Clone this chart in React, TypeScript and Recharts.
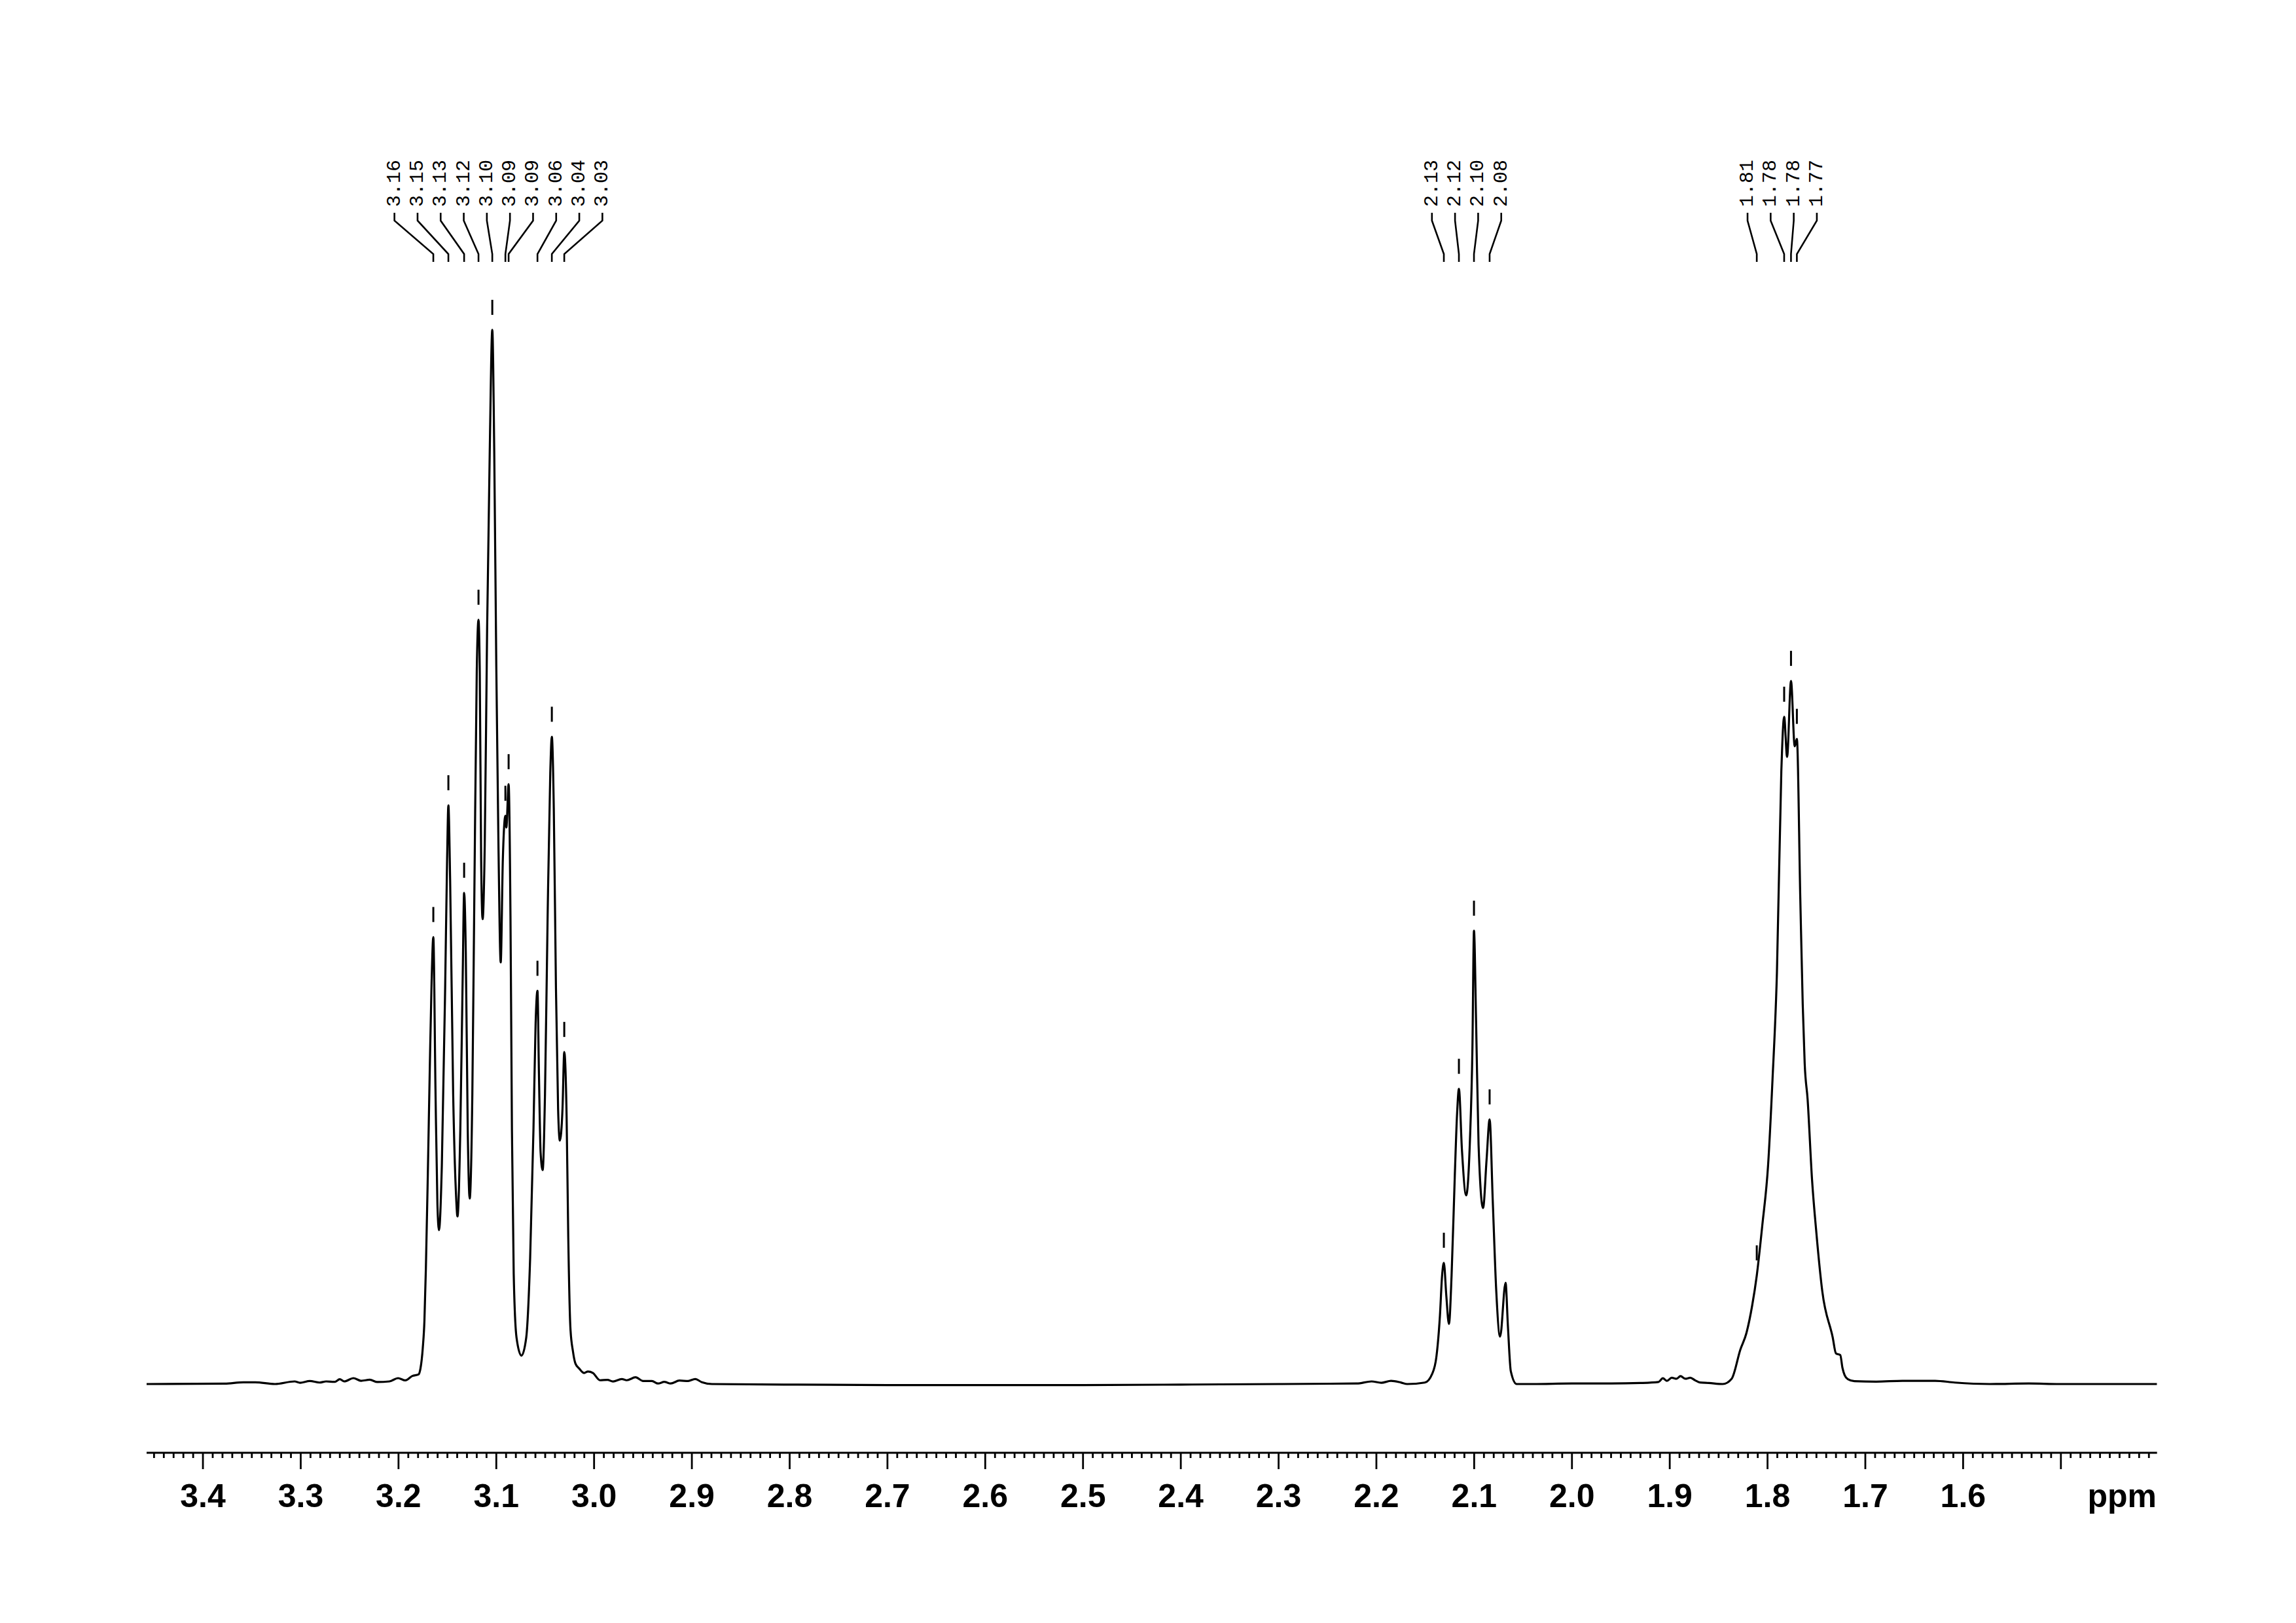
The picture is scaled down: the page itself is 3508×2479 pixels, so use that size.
import React from 'react';
import { ComposedChart, Line, Scatter, XAxis, YAxis } from 'recharts';

// spectrum: [ppm, intensity], tallest line = 100
const baselineLeft: [number, number][] = [
  [3.4576, 0], [3.3777, 0.04], [3.3587, 0.17], [3.3465, 0.17], [3.3264, 0], [3.3063, 0.25], [3.3007, 0.12],
  [3.2907, 0.29], [3.2807, 0.14], [3.274, 0.25], [3.2652, 0.21], [3.2601, 0.46], [3.2555, 0.25], [3.2461, 0.56],
  [3.2383, 0.31], [3.2294, 0.41], [3.2216, 0.19], [3.2093, 0.25], [3.2004, 0.56], [3.193, 0.35], [3.1858, 0.77],
  [3.1796, 0.91],
];

const multiplet310: [number, number][] = [
  [3.1775, 1.5], [3.1752, 3.4], [3.1735, 6], [3.172, 11], [3.17, 20], [3.168, 30], [3.1662, 38], [3.1644, 42.4],
  [3.1622, 28], [3.1602, 17], [3.1586, 14.6], [3.1557, 20.7], [3.1523, 37.6], [3.1503, 49.8], [3.149, 54.9],
  [3.1472, 47.8], [3.1441, 27.5], [3.1412, 18], [3.1397, 15.9], [3.1368, 24.1], [3.1343, 39], [3.1329, 46.6],
  [3.1312, 41], [3.1292, 24.1], [3.1272, 17.6], [3.1245, 27.5], [3.1223, 47.8], [3.12, 67.5], [3.1182, 72.5],
  [3.1169, 67.5], [3.1155, 49.8], [3.114, 44.1], [3.1118, 51.2], [3.1094, 71.5], [3.1067, 88.5], [3.1041, 100],
  [3.1021, 88.5], [3.1, 68.1], [3.0978, 51.2], [3.0955, 40], [3.0933, 49.8], [3.0907, 53.9], [3.0897, 52.8],
  [3.0874, 56.9], [3.0855, 44.4], [3.084, 24.1], [3.0822, 10.5], [3.0793, 4.4], [3.0743, 2.7], [3.0694, 4.4],
  [3.0654, 11.9], [3.062, 24.1], [3.0598, 34.2], [3.0579, 37.3], [3.0564, 29.5], [3.0547, 22], [3.0526, 20.3],
  [3.0502, 27.5], [3.0475, 44.4], [3.0448, 58], [3.0432, 61.4], [3.0412, 54.6], [3.039, 37.6], [3.0368, 26.1],
  [3.035, 23.1], [3.0323, 26.1], [3.0305, 31.5], [3.0281, 25.4], [3.0264, 13.9], [3.0242, 5.3], [3.0216, 3.1],
  [3.0191, 1.95], [3.0152, 1.47], [3.0101, 1.05], [3.0063, 1.19], [3.0012, 1.05],
];

const baselineMid: [number, number][] = [
  [2.994, 0.36], [2.9863, 0.4], [2.9807, 0.24], [2.9717, 0.48], [2.9666, 0.36], [2.9576, 0.64], [2.9499, 0.29],
  [2.9409, 0.29], [2.9346, 0.05], [2.9281, 0.21], [2.9217, 0.05], [2.9127, 0.33], [2.9038, 0.29], [2.8966, 0.48],
  [2.8897, 0.17], [2.8795, 0], [2.8, -0.05], [2.7, -0.1], [2.6, -0.1], [2.5, -0.1], [2.4, -0.05], [2.3, 0],
  [2.22, 0.05], [2.205, 0.25], [2.195, 0.12], [2.185, 0.3], [2.175, 0.15],
];

const multiplet210: [number, number][] = [
  [2.1684, 0], [2.1505, 0.14], [2.143, 0.96], [2.1386, 2.6], [2.135, 6.5], [2.1328, 10.3], [2.131, 11.5],
  [2.1285, 8.4], [2.1258, 5.7], [2.1231, 10.3], [2.1198, 19.8], [2.1175, 25.6], [2.1156, 28], [2.1125, 22.2],
  [2.1082, 17.9], [2.1043, 23.2], [2.1018, 31.8], [2.1002, 43], [2.098, 34.2], [2.0955, 22.7], [2.0909, 16.7],
  [2.0873, 21.3], [2.0842, 25.1], [2.081, 17.4], [2.0774, 8.8], [2.0735, 4.5], [2.0679, 9.6], [2.0655, 5.5],
  [2.0625, 1.2], [2.0566, 0],
];

const baselineMid2: [number, number][] = [
  [2.04, 0], [2.0, 0.05], [1.96, 0.05], [1.93, 0.1], [1.9115, 0.2], [1.907, 0.55], [1.903, 0.3], [1.898, 0.6],
  [1.893, 0.5], [1.889, 0.75], [1.884, 0.5], [1.879, 0.6], [1.874, 0.35], [1.869, 0.15], [1.86, 0.1],
];

const multiplet178: [number, number][] = [
  [1.8458, 0], [1.8367, 0.5], [1.8277, 3.3], [1.8217, 4.8], [1.8158, 7.4], [1.811, 10.3], [1.8053, 15.1],
  [1.7994, 20.8], [1.7949, 28.9], [1.7904, 39], [1.7859, 58.1], [1.783, 63.3], [1.78, 59.5], [1.776, 66.7],
  [1.7722, 60.5], [1.77, 61.2], [1.7665, 46.1], [1.764, 36], [1.762, 30.4], [1.759, 27], [1.7545, 19.4],
  [1.75, 14.3], [1.744, 8.8], [1.7334, 4.45], [1.73, 2.9], [1.7256, 2.75], [1.7234, 1.55], [1.7211, 0.83],
  [1.7178, 0.46], [1.7111, 0.27],
];

const baselineRight: [number, number][] = [
  [1.6888, 0.23], [1.662, 0.31], [1.6286, 0.31], [1.6085, 0.14], [1.5729, 0], [1.5328, 0.06], [1.5015, 0],
  [1.4017, 0],
];

// picked peaks: position, height at the top, printed label, multiplet group
const peakPpm = [3.1644, 3.149, 3.1329, 3.1182, 3.1041, 3.0907, 3.0874, 3.0579, 3.0432, 3.0305,
  2.131, 2.1156, 2.1002, 2.0842, 1.811, 1.783, 1.776, 1.77];
const peakHeight = [42.4, 54.9, 46.6, 72.5, 100, 53.9, 56.9, 37.3, 61.4, 31.5,
  11.5, 28, 43, 25.1, 10.3, 63.3, 66.7, 61.2];
const peakLabels = ['3.16', '3.15', '3.13', '3.12', '3.10', '3.09', '3.09', '3.06', '3.04', '3.03',
  '2.13', '2.12', '2.10', '2.08', '1.81', '1.78', '1.78', '1.77'];
const peakGroup = [0, 0, 0, 0, 0, 0, 0, 0, 0, 0, 1, 1, 1, 1, 2, 2, 2, 2];

const majorLabels = ['3.4', '3.3', '3.2', '3.1', '3.0', '2.9', '2.8', '2.7', '2.6', '2.5', '2.4', '2.3',
  '2.2', '2.1', '2.0', '1.9', '1.8', '1.7', '1.6'];

const spectrum = [
  ...baselineLeft, ...multiplet310, ...baselineMid, ...multiplet210, ...baselineMid2, ...multiplet178, ...baselineRight,
].map(([ppm, v]) => ({ ppm, v }));

const peaks = peakPpm.map((ppm, i) => ({ ppm, h: peakHeight[i], label: peakLabels[i], group: peakGroup[i] }));

const X_MIN = 1.40167;
const X_MAX = 3.4576;
const PPM_POS = 1.4375; // where the unit is written
const ticks: number[] = [];
for (let i = 345; i >= 141; i--) ticks.push(i / 100);
ticks.push(PPM_POS);

const W = 3508;
const H = 2479;
const M = { top: 90, left: 224, right: 212.3, bottom: 160 };
const AXIS_H = 100;
const PX_PER_PPM = (W - M.left - M.right) / (X_MAX - X_MIN);
const LABEL_STEP = 35.3;

const AxisTick = (props: any) => {
  const { x, y, payload } = props;
  const v: number = payload.value;
  const font = { fontFamily: '"Liberation Sans", Arial, sans-serif', fontWeight: 'bold' as const, fontSize: 50 };
  if (v === PPM_POS) {
    return <text x={x} y={y + 83} textAnchor="middle" fill="#000" {...font}>ppm</text>;
  }
  const major = Math.abs(v * 10 - Math.round(v * 10)) < 1e-6;
  const lbl = v.toFixed(1);
  return (
    <g>
      <line x1={x} x2={x} y1={y} y2={y + (major ? 25 : 8)} stroke="#000" strokeWidth={2.8} />
      {major && majorLabels.includes(lbl) && (
        <text x={x} y={y + 83} textAnchor="middle" fill="#000" {...font}>{lbl}</text>
      )}
    </g>
  );
};

const PeakMark = (props: any) => {
  const { cx, cy, payload } = props;
  if (cx == null || cy == null) return null;
  const group = peaks.filter((p) => p.group === payload.group);
  const idx = group.findIndex((p) => p.ppm === payload.ppm);
  const mean = group.reduce((s, p) => s + p.ppm, 0) / group.length;
  const labelX = cx + (payload.ppm - mean) * PX_PER_PPM + (idx - (group.length - 1) / 2) * LABEL_STEP;
  return (
    <g>
      <line x1={cx} x2={cx} y1={cy - 23} y2={cy - 46} stroke="#000" strokeWidth={3} />
      <polyline
        points={`${labelX},325 ${labelX},337 ${cx},388 ${cx},400`}
        fill="none"
        stroke="#000"
        strokeWidth={2.6}
      />
      <text
        x={labelX}
        y={316}
        transform={`rotate(-90 ${labelX} 316)`}
        textAnchor="start"
        dominantBaseline="central"
        fontFamily='"Liberation Mono", "Courier New", monospace'
        fontSize={30}
        fill="#000"
      >
        {payload.label}
      </text>
    </g>
  );
};

const App: React.FC = () => {
  return (
    <div style={{ position: 'absolute', left: 0, top: 0, width: W, height: H, background: '#fff' }}>
      <ComposedChart width={W} height={H} margin={M}>
        <XAxis
          dataKey="ppm"
          type="number"
          domain={[X_MIN, X_MAX]}
          reversed
          allowDataOverflow
          ticks={ticks}
          interval={0}
          height={AXIS_H}
          tickSize={0}
          tickMargin={0}
          tickLine={false}
          axisLine={{ stroke: '#000', strokeWidth: 3 }}
          tick={<AxisTick />}
        />
        <YAxis type="number" domain={[-6.52, 125.71]} allowDataOverflow hide />
        <Line
          data={spectrum}
          dataKey="v"
          type="monotone"
          stroke="#000"
          strokeWidth={3.2}
          dot={false}
          isAnimationActive={false}
        />
        <Scatter data={peaks} dataKey="h" shape={<PeakMark />} isAnimationActive={false} />
      </ComposedChart>
    </div>
  );
};

export default App;
